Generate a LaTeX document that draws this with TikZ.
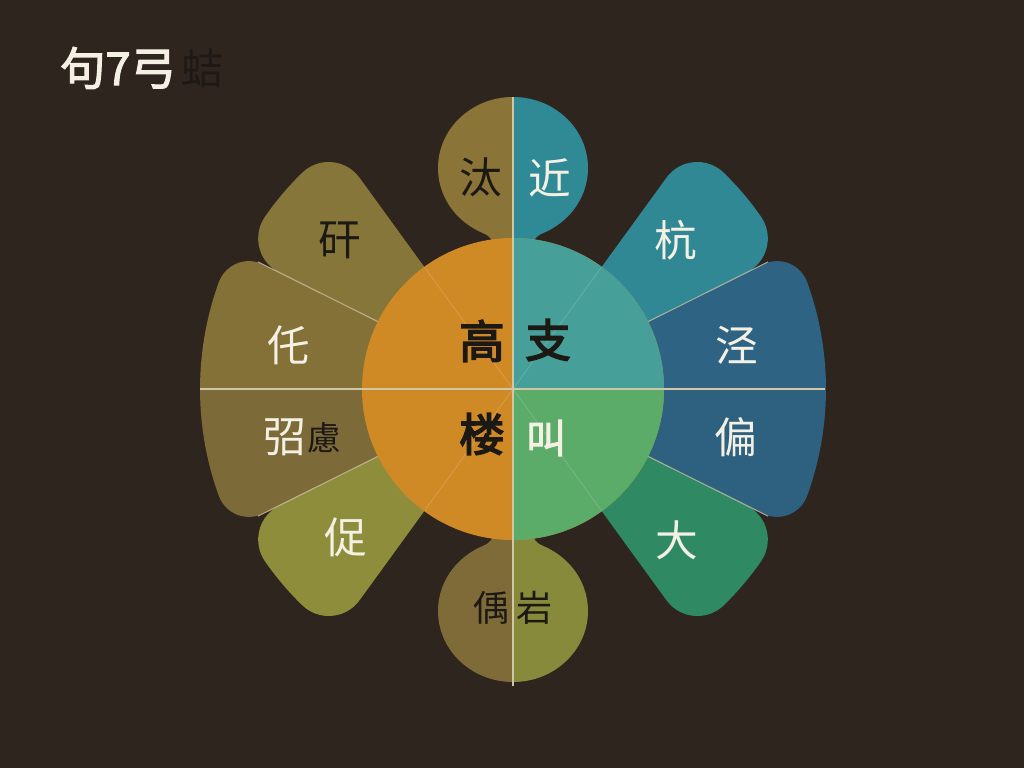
\documentclass[tikz,border=0pt]{standalone}
\usepackage{fontspec}
\usepackage{tikz}
\usetikzlibrary{positioning}
\newfontfamily\cjk{Noto Sans CJK SC}
\newfontfamily\cjkheavy{Noto Sans CJK SC}[FakeBold=3.5]
\newfontfamily\cjkbold{Noto Sans CJK SC}[FakeBold=2.5]
\definecolor{bgc}{HTML}{2F251F}
\definecolor{txtl}{HTML}{F4F0E4}
\definecolor{txtd}{HTML}{1C1814}
\definecolor{ttld}{HTML}{1E1915}
\definecolor{seamc}{HTML}{CFC7A6}
\definecolor{orng}{HTML}{CF8A26}
\definecolor{teal}{HTML}{469F98}
\definecolor{grn}{HTML}{5BAB69}
\definecolor{budtl}{HTML}{8A7437}
\definecolor{budtr}{HTML}{2F8A96}
\definecolor{budbl}{HTML}{7E6B38}
\definecolor{budbr}{HTML}{888A3B}
\definecolor{petA}{HTML}{867639}
\definecolor{petB}{HTML}{847137}
\definecolor{petC}{HTML}{7C6A39}
\definecolor{petD}{HTML}{8D8D3C}
\definecolor{petE}{HTML}{2F8894}
\definecolor{petF}{HTML}{2E6383}
\definecolor{petG}{HTML}{2E6080}
\definecolor{petH}{HTML}{2F8A63}
% rounded sector: start angle, end angle, radius, corner radius, colour
\newcommand{\fanpetal}[5]{%
  \pgfmathsetmacro\pdlt{asin(#4/(#3-#4))}%
  \pgfmathsetmacro\pfoot{(#3-#4)*cos(\pdlt)}%
  \fill[#5] (0,0) -- (#1:\pfoot)
    arc[start angle=#1-90, end angle=#1+\pdlt, radius=#4]
    arc[start angle=#1+\pdlt, end angle=#2-\pdlt, radius=#3]
    arc[start angle=#2-\pdlt, end angle=#2+90, radius=#4] -- cycle;}

\begin{document}
\begin{tikzpicture}[x=0.75pt,y=0.75pt,
  lt/.style={text=txtl,font=\cjk\fontsize{32}{32}\selectfont,inner sep=0pt},
  dk/.style={text=txtd,font=\cjk\fontsize{32}{32}\selectfont,inner sep=0pt},
  hv/.style={text=txtd,font=\cjkheavy\fontsize{34}{34}\selectfont,inner sep=0pt},
  seam/.style={draw=seamc,line width=1pt},
  divl/.style={draw=seamc,opacity=0.75,line width=0.8pt},
  faint/.style={draw=white,opacity=0.13,line width=0.8pt}]
\useasboundingbox (-513,-379) rectangle (511,389);
\fill[bgc] (-513,-379) rectangle (511,389);

% petals, left
\fanpetal{126}{153.5}{302}{38}{petA}
\begin{scope}
  \clip (-400,0) rectangle (0,400);
  \fanpetal{153.5}{206.5}{313}{32}{petB}
\end{scope}
\begin{scope}
  \clip (-400,-400) rectangle (0,0);
  \fanpetal{153.5}{206.5}{313}{32}{petC}
\end{scope}
\fanpetal{206.5}{234}{302}{38}{petD}
% petals, right
\fanpetal{26.5}{54}{302}{38}{petE}
\begin{scope}
  \clip (0,0) rectangle (400,400);
  \fanpetal{-26.5}{26.5}{313}{32}{petF}
\end{scope}
\begin{scope}
  \clip (0,-400) rectangle (400,0);
  \fanpetal{-26.5}{26.5}{313}{32}{petG}
\end{scope}
\fanpetal{-54}{-26.5}{302}{38}{petH}
\foreach \a in {26.5,153.5,206.5,333.5}
  \draw[divl] (\a:150) -- (\a:285);

% buds
\begin{scope}
  \clip (-80,0) rectangle (0,300);
  \fill[budtl] (0,221) ellipse [x radius=75, y radius=71];
  \fill[budtl] (-30,156) .. controls (-22,152) and (-20,150) .. (-20,140) -- (0,140) -- (0,156) -- cycle;
\end{scope}
\begin{scope}
  \clip (0,0) rectangle (80,300);
  \fill[budtr] (0,221) ellipse [x radius=75, y radius=71];
  \fill[budtr] (30,156) .. controls (22,152) and (20,150) .. (20,140) -- (0,140) -- (0,156) -- cycle;
\end{scope}
\begin{scope}
  \clip (-80,0) rectangle (0,-300);
  \fill[budbl] (0,-222) ellipse [x radius=75, y radius=71];
  \fill[budbl] (-30,-157) .. controls (-22,-153) and (-20,-151) .. (-20,-141) -- (0,-141) -- (0,-157) -- cycle;
\end{scope}
\begin{scope}
  \clip (0,0) rectangle (80,-300);
  \fill[budbr] (0,-222) ellipse [x radius=75, y radius=71];
  \fill[budbr] (30,-157) .. controls (22,-153) and (20,-151) .. (20,-141) -- (0,-141) -- (0,-157) -- cycle;
\end{scope}

% centre disc
\fill[orng] (0,-151) arc[start angle=-90, end angle=90, radius=151] -- cycle;
\fill[orng] (0,151) arc[start angle=90, end angle=270, radius=151] -- cycle;
\fill[teal] (0,0) -- (151,0) arc[start angle=0, end angle=90, radius=151] -- cycle;
\fill[grn] (0,0) -- (0,-151) arc[start angle=-90, end angle=0, radius=151] -- cycle;
\foreach \a in {54,126,234,306}
  \draw[faint] (0,0) -- (\a:150);
\draw[seam] (0,-297) -- (0,292);
\draw[seam] (-313,0) -- (312,0);

% labels
\node[dk] (fa) at (-173,149) {矸};
\node[lt] (tuo) at (-224,44) {仛};
\node[lt] (chao) at (-228,-48) {弨};
\node[text=txtd,font=\cjk\fontsize{25}{25}\selectfont,inner sep=0pt] (lv) at (-189,-49) {慮};
\node[lt] (cu) at (-167,-148) {促};
\node[lt] (hang) at (163,149) {杭};
\node[lt] (jing) at (224,44) {泾};
\node[lt] (pian) at (223,-48) {偏};
\node[lt] (da) at (164,-151) {大};
\node[dk] (tai) at (-32,212) {汰};
\node[lt] (jin) at (37,211) {近};
\node[text=txtd,font=\cjk\fontsize{27}{27}\selectfont,inner sep=0pt] (yu) at (-22,-219) {偊};
\node[text=txtd,font=\cjk\fontsize{27}{27}\selectfont,inner sep=0pt] (yan) at (21,-219) {岩};
\node[hv] (gao) at (-31,48) {高};
\node[hv] (zhi) at (35,49) {支};
\node[hv] (lou) at (-31,-45) {楼};
\node[text=txtl,font=\cjkbold\fontsize{30}{30}\selectfont,inner sep=0pt] (jiao) at (33,-49) {叫};
\node[text=txtl,font=\cjkbold\fontsize{34}{34}\selectfont,inner sep=0pt] (ttl) at (-395,321) {句7弓};
\node[text=ttld,font=\cjk\fontsize{32}{32}\selectfont,inner sep=0pt,right=4pt of ttl] (ttx) {蛣};
\end{tikzpicture}
\end{document}
